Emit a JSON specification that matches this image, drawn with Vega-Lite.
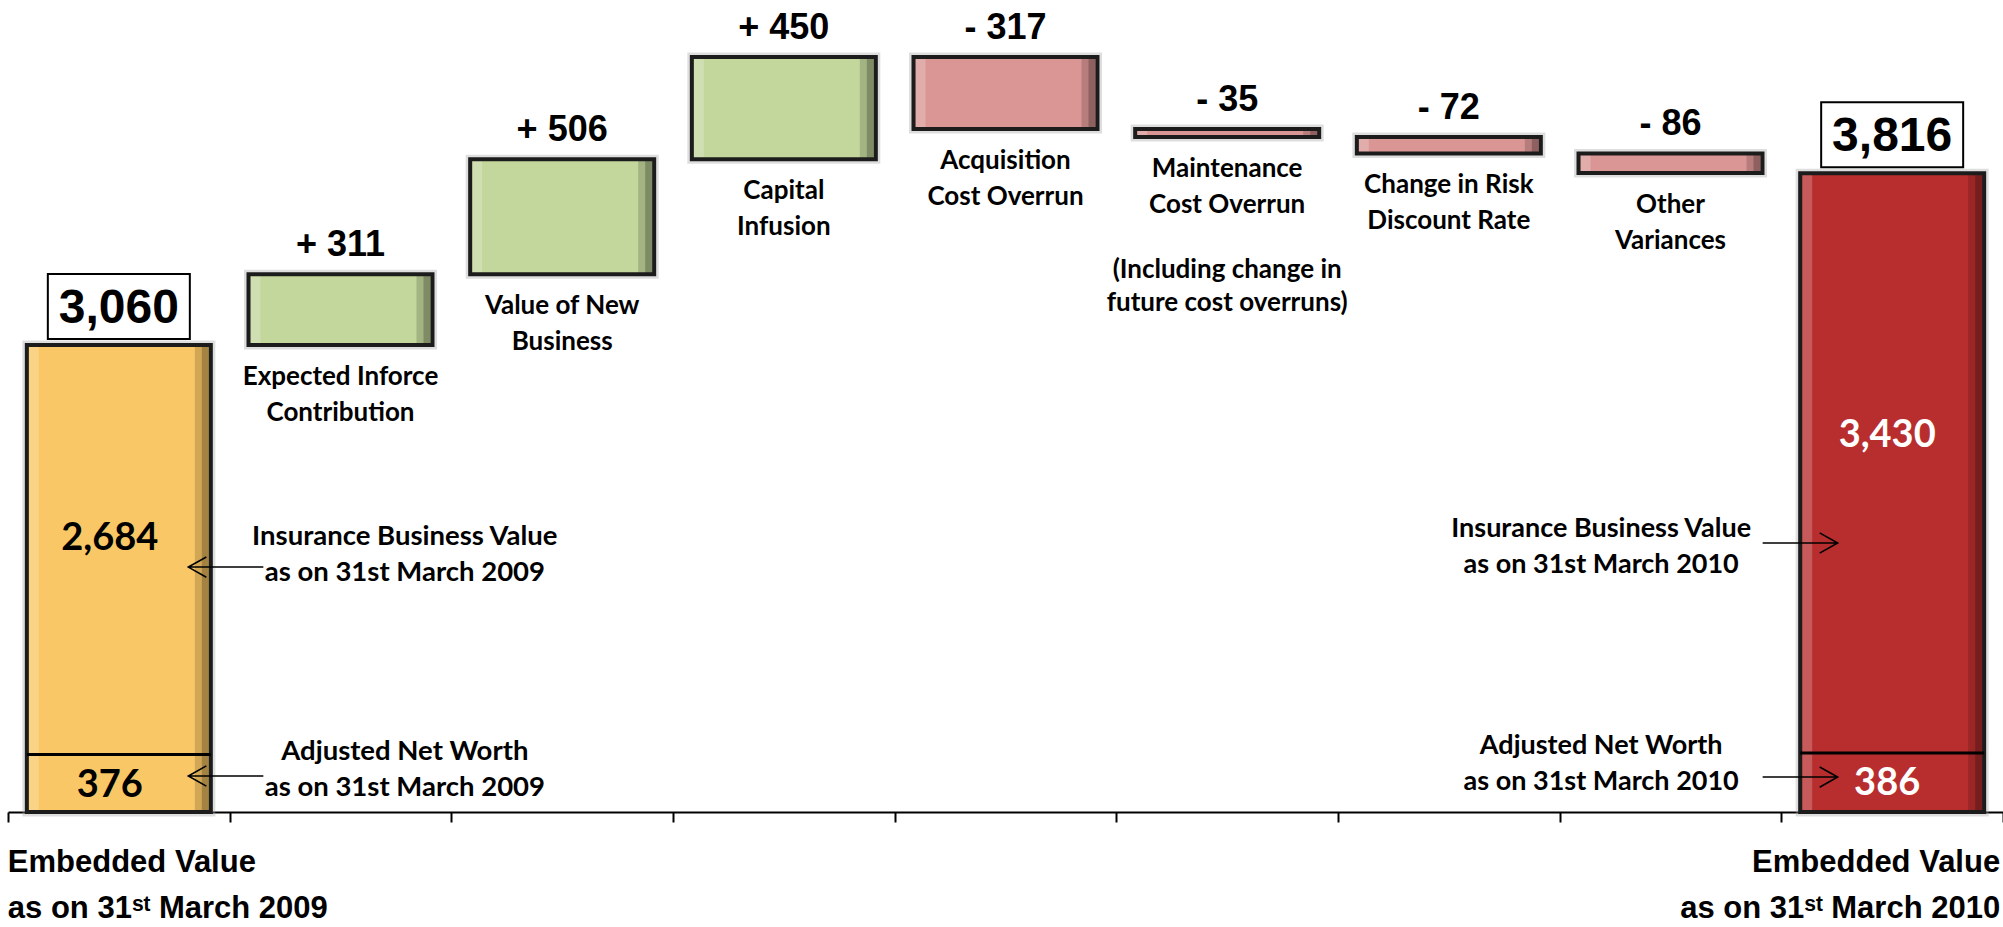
{
  "$schema": "https://vega.github.io/schema/vega-lite/v6.json",
  "width": 1995,
  "height": 812,
  "autosize": {"type": "none"},
  "padding": {"left": 8, "top": 0, "right": 0, "bottom": 115},
  "background": "white",
  "config": {"view": {"stroke": null}},
  "resolve": {"scale": {"y": "independent"}},
  "data": {"values": [
    {"set": "bar", "cat": "EV 2009", "kind": "start", "lo": 0, "hi": 3060, "label": "3,060", "bottom": ["Embedded Value", "as on 31ˢᵗ March 2009"]},
    {"set": "bar", "cat": "Expected Inforce Contribution", "kind": "increase", "lo": 3060, "hi": 3371, "label": "+ 311", "lines": ["Expected Inforce", "Contribution"]},
    {"set": "bar", "cat": "Value of New Business", "kind": "increase", "lo": 3371, "hi": 3877, "label": "+ 506", "lines": ["Value of New", "Business"]},
    {"set": "bar", "cat": "Capital Infusion", "kind": "increase", "lo": 3877, "hi": 4327, "label": "+ 450", "lines": ["Capital", "Infusion"]},
    {"set": "bar", "cat": "Acquisition Cost Overrun", "kind": "decrease", "lo": 4010, "hi": 4327, "label": "- 317", "lines": ["Acquisition", "Cost Overrun"]},
    {"set": "bar", "cat": "Maintenance Cost Overrun", "kind": "decrease", "lo": 3975, "hi": 4010, "label": "- 35", "lines": ["Maintenance", "Cost Overrun"]},
    {"set": "bar", "cat": "Change in Risk Discount Rate", "kind": "decrease", "lo": 3903, "hi": 3975, "label": "- 72", "lines": ["Change in Risk", "Discount Rate"]},
    {"set": "bar", "cat": "Other Variances", "kind": "decrease", "lo": 3817, "hi": 3903, "label": "- 86", "lines": ["Other", "Variances"]},
    {"set": "bar", "cat": "EV 2010", "kind": "end", "lo": 0, "hi": 3816, "label": "3,816", "bottom": ["Embedded Value", "as on 31ˢᵗ March 2010"]},
    {"set": "part", "cat": "EV 2009", "part": "Adjusted Net Worth", "lo": 0, "hi": 376, "labelAt": 170, "label": "376", "side": "left"},
    {"set": "part", "cat": "EV 2009", "part": "Insurance Business Value", "lo": 376, "hi": 3060, "labelAt": 1789, "label": "2,684", "side": "left"},
    {"set": "part", "cat": "EV 2010", "part": "Adjusted Net Worth", "lo": 0, "hi": 386, "labelAt": 183, "label": "386", "side": "right"},
    {"set": "part", "cat": "EV 2010", "part": "Insurance Business Value", "lo": 386, "hi": 3816, "labelAt": 2464, "label": "3,430", "side": "right"},
    {"set": "note", "cat": "Maintenance Cost Overrun", "lo": 3975, "lines": ["(Including change in", "future cost overruns)"]},
    {"set": "ann", "cat": "EV 2009", "side": "left", "at": 1605, "textAt": 1802, "lines": ["Insurance Business Value", "as on 31st  March 2009"]},
    {"set": "ann", "cat": "EV 2009", "side": "left", "at": 236, "textAt": 393, "lines": ["Adjusted Net Worth", "as on 31st  March 2009"]},
    {"set": "ann", "cat": "EV 2010", "side": "right", "at": 1763, "textAt": 1855, "lines": ["Insurance Business Value", "as on 31st  March 2010"]},
    {"set": "ann", "cat": "EV 2010", "side": "right", "at": 229, "textAt": 432, "lines": ["Adjusted Net Worth", "as on 31st  March 2010"]}
  ]},
  "layer": [
    {
      "transform": [{"filter": "datum.set === 'bar'"}],
      "mark": {"type": "bar", "width": {"band": 0.83}, "fillOpacity": 0, "stroke": "#a0a0a0", "strokeWidth": 9, "strokeOpacity": 0.35},
      "encoding": {
        "x": {
          "field": "cat", "type": "nominal", "sort": null,
          "scale": {"domain": ["EV 2009", "Expected Inforce Contribution", "Value of New Business", "Capital Infusion", "Acquisition Cost Overrun", "Maintenance Cost Overrun", "Change in Risk Discount Rate", "Other Variances", "EV 2010"], "paddingInner": 0, "paddingOuter": 0},
          "axis": {"title": null, "labels": false, "grid": false, "domainColor": "#000000", "domainWidth": 2, "tickBand": "extent", "tickColor": "#000000", "tickWidth": 2, "tickSize": 10}
        },
        "y": {"field": "lo", "type": "quantitative", "scale": {"domain": [1005, 4578], "clamp": true, "zero": false, "nice": false}, "axis": null},
        "y2": {"field": "hi"}
      }
    },
    {
      "transform": [{"filter": "datum.set === 'bar'"}],
      "mark": {"type": "bar", "width": {"band": 0.83}},
      "encoding": {
        "x": {"field": "cat", "type": "nominal", "sort": null},
        "y": {"field": "lo", "type": "quantitative", "scale": {"domain": [1005, 4578], "clamp": true, "zero": false, "nice": false}, "axis": null},
        "y2": {"field": "hi"},
        "color": {"field": "kind", "type": "nominal", "scale": {"domain": ["start", "increase", "decrease", "end"], "range": ["#F9C766", "#C3D69B", "#D99694", "#B82E2E"]}, "legend": null}
      }
    },
    {
      "transform": [{"filter": "datum.set === 'bar'"}],
      "mark": {"type": "bar", "width": 10, "xOffset": -85, "color": "#ffffff", "opacity": 0.22},
      "encoding": {
        "x": {"field": "cat", "type": "nominal", "sort": null},
        "y": {"field": "lo", "type": "quantitative", "scale": {"domain": [1005, 4578], "clamp": true, "zero": false, "nice": false}, "axis": null},
        "y2": {"field": "hi"}
      }
    },
    {
      "transform": [{"filter": "datum.set === 'bar'"}],
      "mark": {"type": "bar", "width": 14, "xOffset": 83, "color": "#000000", "opacity": 0.16},
      "encoding": {
        "x": {"field": "cat", "type": "nominal", "sort": null},
        "y": {"field": "lo", "type": "quantitative", "scale": {"domain": [1005, 4578], "clamp": true, "zero": false, "nice": false}, "axis": null},
        "y2": {"field": "hi"}
      }
    },
    {
      "transform": [{"filter": "datum.set === 'bar'"}],
      "mark": {"type": "bar", "width": 7, "xOffset": 86.5, "color": "#000000", "opacity": 0.22},
      "encoding": {
        "x": {"field": "cat", "type": "nominal", "sort": null},
        "y": {"field": "lo", "type": "quantitative", "scale": {"domain": [1005, 4578], "clamp": true, "zero": false, "nice": false}, "axis": null},
        "y2": {"field": "hi"}
      }
    },
    {
      "transform": [{"filter": "datum.set === 'bar'"}],
      "mark": {"type": "bar", "width": {"band": 0.83}, "fillOpacity": 0, "stroke": "#1c1c1c", "strokeWidth": 4},
      "encoding": {
        "x": {"field": "cat", "type": "nominal", "sort": null},
        "y": {"field": "lo", "type": "quantitative", "scale": {"domain": [1005, 4578], "clamp": true, "zero": false, "nice": false}, "axis": null},
        "y2": {"field": "hi"}
      }
    },
    {
      "transform": [{"filter": "datum.set === 'part' && datum.part === 'Adjusted Net Worth'"}],
      "mark": {"type": "tick", "size": 184, "thickness": 3, "color": "#000000", "opacity": 1},
      "encoding": {
        "x": {"field": "cat", "type": "nominal", "sort": null},
        "y": {"field": "hi", "type": "quantitative", "scale": {"domain": [0, 5321], "zero": false, "nice": false}, "axis": null}
      }
    },
    {
      "transform": [{"filter": "datum.set === 'part' && datum.side === 'left'"}],
      "mark": {"type": "text", "font": "Lato, Liberation Sans, sans-serif", "fontWeight": "bold", "fontSize": 38, "baseline": "middle", "align": "center", "dx": -9, "color": "#000000"},
      "encoding": {
        "x": {"field": "cat", "type": "nominal", "sort": null},
        "y": {"field": "labelAt", "type": "quantitative", "scale": {"domain": [0, 5321], "zero": false, "nice": false}, "axis": null},
        "text": {"field": "label"}
      }
    },
    {
      "transform": [{"filter": "datum.set === 'part' && datum.side === 'right'"}],
      "mark": {"type": "text", "font": "Lato, Liberation Sans, sans-serif", "fontWeight": "bold", "fontSize": 38, "baseline": "middle", "align": "center", "dx": -5, "color": "#ffffff"},
      "encoding": {
        "x": {"field": "cat", "type": "nominal", "sort": null},
        "y": {"field": "labelAt", "type": "quantitative", "scale": {"domain": [0, 5321], "zero": false, "nice": false}, "axis": null},
        "text": {"field": "label"}
      }
    },
    {
      "transform": [{"filter": "datum.set === 'bar' && (datum.kind === 'increase' || datum.kind === 'decrease')"}],
      "mark": {"type": "text", "font": "Liberation Sans, Arial, sans-serif", "fontWeight": "bold", "fontSize": 36, "baseline": "alphabetic", "align": "center", "dy": -18, "color": "#000000"},
      "encoding": {
        "x": {"field": "cat", "type": "nominal", "sort": null},
        "y": {"field": "hi", "type": "quantitative", "scale": {"domain": [1005, 4578], "clamp": true, "zero": false, "nice": false}, "axis": null},
        "text": {"field": "label"}
      }
    },
    {
      "transform": [{"filter": "datum.set === 'bar' && (datum.kind === 'increase' || datum.kind === 'decrease')"}],
      "mark": {"type": "text", "font": "Lato, Liberation Sans, sans-serif", "fontWeight": "bold", "fontSize": 26, "baseline": "top", "align": "center", "dy": 19, "lineHeight": 36, "color": "#000000"},
      "encoding": {
        "x": {"field": "cat", "type": "nominal", "sort": null},
        "y": {"field": "lo", "type": "quantitative", "scale": {"domain": [1005, 4578], "clamp": true, "zero": false, "nice": false}, "axis": null},
        "text": {"field": "lines"}
      }
    },
    {
      "transform": [{"filter": "datum.set === 'note'"}],
      "mark": {"type": "text", "font": "Lato, Liberation Sans, sans-serif", "fontWeight": "bold", "fontSize": 26, "baseline": "top", "align": "center", "dy": 120, "lineHeight": 33, "color": "#000000"},
      "encoding": {
        "x": {"field": "cat", "type": "nominal", "sort": null},
        "y": {"field": "lo", "type": "quantitative", "scale": {"domain": [1005, 4578], "clamp": true, "zero": false, "nice": false}, "axis": null},
        "text": {"field": "lines"}
      }
    },
    {
      "transform": [{"filter": "datum.set === 'bar' && (datum.kind === 'start' || datum.kind === 'end')"}],
      "mark": {"type": "point", "shape": "M-1,-0.458L1,-0.458L1,0.458L-1,0.458Z", "size": 20164, "filled": true, "fill": "#ffffff", "stroke": "#000000", "strokeWidth": 2, "opacity": 1, "yOffset": -38.5},
      "encoding": {
        "x": {"field": "cat", "type": "nominal", "sort": null},
        "y": {"field": "hi", "type": "quantitative", "scale": {"domain": [1005, 4578], "clamp": true, "zero": false, "nice": false}, "axis": null}
      }
    },
    {
      "transform": [{"filter": "datum.set === 'bar' && (datum.kind === 'start' || datum.kind === 'end')"}],
      "mark": {"type": "text", "font": "Liberation Sans, Arial, sans-serif", "fontWeight": "bold", "fontSize": 48, "baseline": "middle", "align": "center", "dy": -36, "color": "#000000"},
      "encoding": {
        "x": {"field": "cat", "type": "nominal", "sort": null},
        "y": {"field": "hi", "type": "quantitative", "scale": {"domain": [1005, 4578], "clamp": true, "zero": false, "nice": false}, "axis": null},
        "text": {"field": "label"}
      }
    },
    {
      "transform": [{"filter": "datum.set === 'ann' && datum.side === 'left'"}],
      "mark": {"type": "text", "font": "Lato, Liberation Sans, sans-serif", "fontWeight": "bold", "fontSize": 27.5, "baseline": "middle", "align": "center", "dx": 286, "lineHeight": 36, "color": "#000000"},
      "encoding": {
        "x": {"field": "cat", "type": "nominal", "sort": null},
        "y": {"field": "textAt", "type": "quantitative", "scale": {"domain": [0, 5321], "zero": false, "nice": false}, "axis": null},
        "text": {"field": "lines"}
      }
    },
    {
      "transform": [{"filter": "datum.set === 'ann' && datum.side === 'right'"}],
      "mark": {"type": "text", "font": "Lato, Liberation Sans, sans-serif", "fontWeight": "bold", "fontSize": 27, "baseline": "middle", "align": "center", "dx": -291, "lineHeight": 36, "color": "#000000"},
      "encoding": {
        "x": {"field": "cat", "type": "nominal", "sort": null},
        "y": {"field": "textAt", "type": "quantitative", "scale": {"domain": [0, 5321], "zero": false, "nice": false}, "axis": null},
        "text": {"field": "lines"}
      }
    },
    {
      "transform": [{"filter": "datum.set === 'ann' && datum.side === 'left'"}],
      "mark": {"type": "point", "shape": "M1,0L-1,0M-0.52,-0.27L-1,0L-0.52,0.27", "size": 5625, "filled": false, "stroke": "#000000", "strokeWidth": 1.6, "opacity": 1, "xOffset": 107},
      "encoding": {
        "x": {"field": "cat", "type": "nominal", "sort": null},
        "y": {"field": "at", "type": "quantitative", "scale": {"domain": [0, 5321], "zero": false, "nice": false}, "axis": null}
      }
    },
    {
      "transform": [{"filter": "datum.set === 'ann' && datum.side === 'right'"}],
      "mark": {"type": "point", "shape": "M-1,0L1,0M0.52,-0.27L1,0L0.52,0.27", "size": 5625, "filled": false, "stroke": "#000000", "strokeWidth": 1.6, "opacity": 1, "xOffset": -92},
      "encoding": {
        "x": {"field": "cat", "type": "nominal", "sort": null},
        "y": {"field": "at", "type": "quantitative", "scale": {"domain": [0, 5321], "zero": false, "nice": false}, "axis": null}
      }
    },
    {
      "transform": [{"filter": "datum.set === 'bar' && datum.kind === 'start'"}],
      "mark": {"type": "text", "font": "Liberation Sans, Arial, sans-serif", "fontWeight": "bold", "fontSize": 31, "baseline": "top", "align": "left", "dx": -111, "dy": 36, "lineHeight": 46, "color": "#000000"},
      "encoding": {
        "x": {"field": "cat", "type": "nominal", "sort": null},
        "y": {"field": "lo", "type": "quantitative", "scale": {"domain": [1005, 4578], "clamp": true, "zero": false, "nice": false}, "axis": null},
        "text": {"field": "bottom"}
      }
    },
    {
      "transform": [{"filter": "datum.set === 'bar' && datum.kind === 'end'"}],
      "mark": {"type": "text", "font": "Liberation Sans, Arial, sans-serif", "fontWeight": "bold", "fontSize": 31, "baseline": "top", "align": "right", "dx": 108, "dy": 36, "lineHeight": 46, "color": "#000000"},
      "encoding": {
        "x": {"field": "cat", "type": "nominal", "sort": null},
        "y": {"field": "lo", "type": "quantitative", "scale": {"domain": [1005, 4578], "clamp": true, "zero": false, "nice": false}, "axis": null},
        "text": {"field": "bottom"}
      }
    }
  ]
}
